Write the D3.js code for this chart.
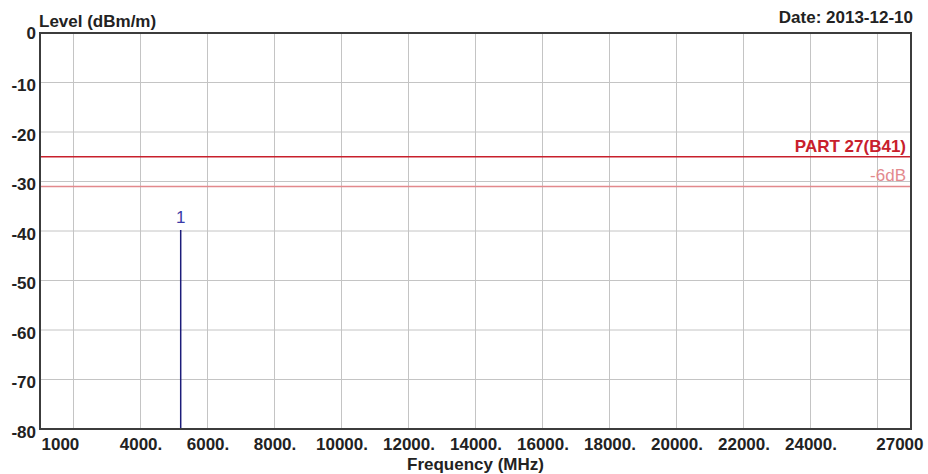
<!DOCTYPE html>
<html><head><meta charset="utf-8">
<script src="https://cdn.jsdelivr.net/npm/d3@7"></script>
<style>
html,body{margin:0;padding:0;background:#fff;}
text{font-family:"Liberation Sans",Arial,sans-serif;}
</style></head>
<body><svg id="c" width="928" height="474"></svg>
<script>
const yTickValues = [0,-10,-20,-30,-40,-50,-60,-70,-80];
const xGridValues = [2000,4000,6000,8000,10000,12000,14000,16000,18000,20000,22000,24000,26000];
const xTickValues = [1000,4000,6000,8000,10000,12000,14000,16000,18000,20000,22000,24000,27000];
const xTickLabels = ["1000","4000.","6000.","8000.","10000.","12000.","14000.","16000.","18000.","20000.","22000.","24000.","27000"];
const limitNames = ["PART 27(B41)","-6dB"];
const limitLevels = [-25,-31];
const markerIds = ["1"];
const markerFreqs = [5200];
const markerLevels = [-39.8];

const FS = 17;
const svg = d3.select("#c");
const L=40,R=911,T=33,B=429;
const x = d3.scaleLinear().domain([1000,27000]).range([L,R]);
const y = d3.scaleLinear().domain([-80,0]).range([B,T]);

// grid
svg.append("g").selectAll("line").data(xGridValues).join("line")
  .attr("x1",d=>x(d)).attr("x2",d=>x(d)).attr("y1",T).attr("y2",B)
  .attr("stroke","#c4c4c4").attr("stroke-width",1);
svg.append("g").selectAll("line").data(yTickValues.filter(v=>v>-80&&v<0)).join("line")
  .attr("x1",L).attr("x2",R).attr("y1",d=>y(d)).attr("y2",d=>y(d))
  .attr("stroke","#c4c4c4").attr("stroke-width",1);

// limit lines
const limColors = ["#c8202c","#e3898d"];
const limWidths = [1.6,1.4];
const lim = svg.append("g");
limitLevels.forEach((v,i)=>{
  lim.append("line").attr("x1",L).attr("x2",R).attr("y1",y(v)).attr("y2",y(v))
    .attr("stroke",limColors[i]).attr("stroke-width",limWidths[i]);
  lim.append("text").attr("x",R-5).attr("y",y(v)-5).attr("text-anchor","end")
    .attr("font-size",FS).attr("font-weight",i===0?"bold":"normal")
    .attr("fill",limColors[i]).text(limitNames[i]);
});

// markers
const mk = svg.append("g");
markerFreqs.forEach((f,i)=>{
  mk.append("line").attr("x1",x(f)).attr("x2",x(f)).attr("y1",y(markerLevels[i])).attr("y2",B)
    .attr("stroke","#1c1c7a").attr("stroke-width",1.5);
  mk.append("text").attr("x",x(f)).attr("y",y(markerLevels[i])-7).attr("text-anchor","middle")
    .attr("font-size",FS).attr("fill","#3a3aa8").text(markerIds[i]);
});

// frame
svg.append("rect").attr("x",L).attr("y",T).attr("width",R-L).attr("height",B-T)
  .attr("fill","none").attr("stroke","#3c3c3c").attr("stroke-width",2);

// y axis labels
const yAxis = d3.axisLeft(y).tickValues(yTickValues).tickSize(0).tickPadding(4).tickFormat(d=>String(d));
const ga = svg.append("g").attr("transform",`translate(${L},0)`).call(yAxis);
ga.select(".domain").remove();
ga.selectAll("text").attr("font-size",FS).attr("font-weight","bold").attr("fill","#222")
  .attr("font-family","Liberation Sans, Arial, sans-serif")
  .attr("y",d=>d===0?0:3);

// x axis labels
const xAxis = d3.axisBottom(x).tickValues(xTickValues).tickSize(0).tickPadding(9)
  .tickFormat((d,i)=>xTickLabels[i]);
const gx = svg.append("g").attr("transform",`translate(0,${B})`).call(xAxis);
gx.select(".domain").remove();
gx.selectAll("text").attr("font-size",FS).attr("font-weight","bold").attr("fill","#222")
  .attr("font-family","Liberation Sans, Arial, sans-serif")
  .attr("text-anchor",(d,i)=>i===0?"start":(i===xTickValues.length-1?"end":"middle"))
  .attr("dx",(d,i)=>i===0?1:(i===xTickValues.length-1?12:0));

// titles
svg.append("text").attr("x",L-1).attr("y",27).attr("font-size",FS).attr("font-weight","bold").attr("fill","#222")
  .text("Level (dBm/m)");
svg.append("text").attr("x",R+2).attr("y",23).attr("text-anchor","end").attr("font-size",FS)
  .attr("font-weight","bold").attr("fill","#222").text("Date: 2013-12-10");
svg.append("text").attr("x",(L+R)/2).attr("y",470).attr("text-anchor","middle").attr("font-size",FS)
  .attr("font-weight","bold").attr("fill","#222").text("Frequency (MHz)");
</script></body></html>
